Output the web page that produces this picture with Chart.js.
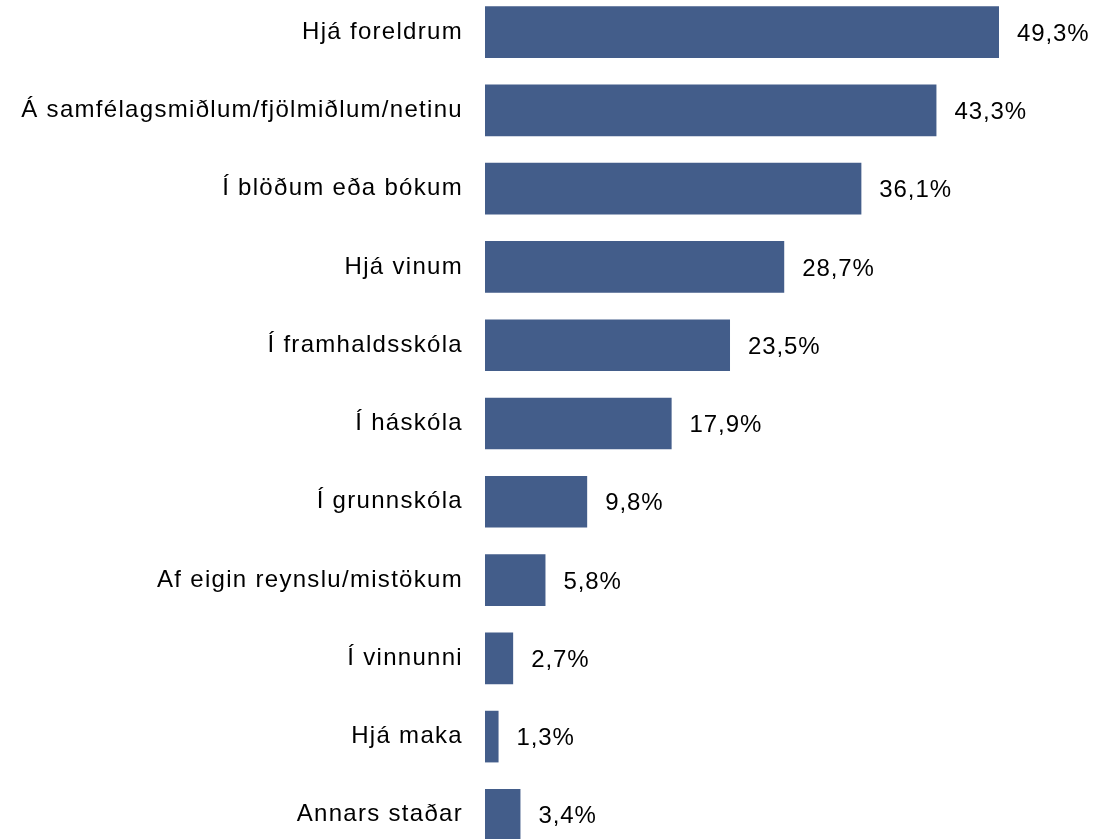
<!DOCTYPE html>
<html>
<head>
<meta charset="utf-8">
<script src="https://cdn.jsdelivr.net/npm/chart.js@4/dist/chart.umd.min.js"></script>
<style>
  html, body { margin: 0; padding: 0; background: #fff; overflow: hidden; }
  #wrap { position: absolute; left: 0; top: -7px; width: 1097px; height: 861px; }
</style>
</head>
<body>
<div id="wrap"><canvas id="myChart"></canvas></div>
<script>
const categories = [
    'Hjá foreldrum',
    'Á samfélagsmiðlum/fjölmiðlum/netinu',
    'Í blöðum eða bókum',
    'Hjá vinum',
    'Í framhaldsskóla',
    'Í háskóla',
    'Í grunnskóla',
    'Af eigin reynslu/mistökum',
    'Í vinnunni',
    'Hjá maka',
    'Annars staðar'
];
const values = [49.3, 43.3, 36.1, 28.7, 23.5, 17.9, 9.8, 5.8, 2.7, 1.3, 3.4];

const fontFamily = '"Liberation Sans", Arial, sans-serif';

// wider letter spacing like the original export
const spacing = {
    id: 'spacing',
    beforeDraw(chart) {
        chart.ctx.letterSpacing = '1.3px';
    }
};

// draws "49,3%" style labels to the right of each bar
const valueLabels = {
    id: 'valueLabels',
    afterDatasetsDraw(chart) {
        const ctx = chart.ctx;
        const meta = chart.getDatasetMeta(0);
        ctx.save();
        ctx.font = '24px ' + fontFamily;
        ctx.letterSpacing = '0.9px';
        ctx.fillStyle = '#000';
        ctx.textAlign = 'left';
        ctx.textBaseline = 'middle';
        meta.data.forEach(function(bar, i) {
            const txt = values[i].toFixed(1).replace('.', ',') + '%';
            ctx.fillText(txt, bar.x + 18, bar.y + 2);
        });
        ctx.restore();
    }
};

document.addEventListener('DOMContentLoaded', function() {
    const ctx = document.getElementById('myChart').getContext('2d');
    new Chart(ctx, {
        type: 'bar',
        data: {
            labels: categories,
            datasets: [{
                data: values,
                backgroundColor: '#435d8a',
                borderWidth: 0,
                barPercentage: 0.66,
                categoryPercentage: 1
            }]
        },
        options: {
            indexAxis: 'y',
            responsive: true,
            maintainAspectRatio: false,
            animation: false,
            layout: { padding: 0 },
            plugins: {
                legend: { display: false },
                tooltip: { enabled: false }
            },
            scales: {
                x: {
                    display: false,
                    min: 0,
                    max: 58.7
                },
                y: {
                    grid: { display: false, drawTicks: false },
                    border: { display: false },
                    ticks: {
                        color: '#000',
                        padding: 22,
                        font: { family: fontFamily, size: 24 }
                    },
                    afterFit: function(scale) {
                        scale.width = 485;
                        scale.paddingTop = 0;
                        scale.paddingBottom = 0;
                    }
                }
            }
        },
        plugins: [spacing, valueLabels]
    });
});
</script>
</body>
</html>
